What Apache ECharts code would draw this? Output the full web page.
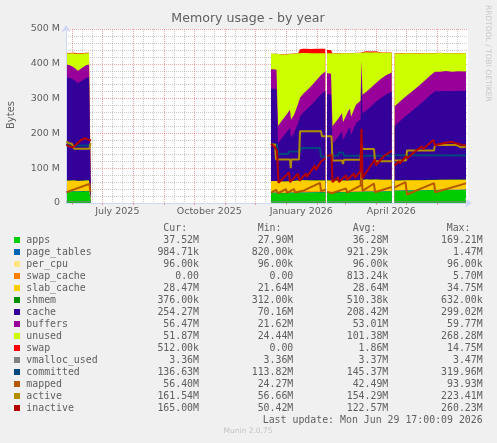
<!DOCTYPE html>
<html>
<head>
<meta charset="utf-8">
<script src="https://cdn.jsdelivr.net/npm/echarts@6/dist/echarts.min.js"></script>
<style>
html, body { margin: 0; padding: 0; background: #f0f0f0; }
#chart { width: 497px; height: 443px; }
</style>
</head>
<body>
<div id="chart"></div>
<script>
// x values are days since 2025-05-25 17:00 (one pixel per day in the munin year graph)
const startMs = Date.UTC(2025, 4, 25, 17)

// null marks a gap in the recorded data
const areaDays = [0.3,3,6,9,12,14,17,20,23,25, 25.6,
  205,208,210.5,212,216,220,224,225,228,232,234,237,240,245,250,255,259.3, 260,
  261,265,266.5,272,276,277,282,284,285,290,294.5,295.5,296.5,300,305,310,315,320,325.7, 327,
  328.7,334,340,346,352,358,364,369,374,380,386,392,400]

// stacked areas, values in MiB
const apps = [33.5,33,33,32.8,32.5,33,33.2,33.5,33.4,33.5, null,
  29,29,29,28.5,28,28.5,29,29,29.5,30,30,29.5,29.5,30,30,30.5,30.5, null,
  31,31,30.5,30.5,31,31,31,31.5,31,31.5,31.5,31.5,32,32,32,32.5,32.5,33,33, null,
  35,35,35.5,35.5,36,36,36.5,36.5,37,37,37.2,37.4,37.52]
const pageTables = [0.95,0.95,0.95,0.95,0.95,0.95,0.95,0.95,0.95,0.95, null,
  0.9,0.9,0.9,0.9,0.9,0.9,0.9,0.9,0.9,0.9,0.9,0.9,0.9,0.9,0.9,0.9,0.9, null,
  0.9,0.9,0.9,0.9,0.9,0.9,0.9,0.9,0.9,0.9,0.9,0.9,0.9,0.9,0.9,0.9,0.9,0.9,0.9, null,
  0.95,0.95,0.96,0.96,0.96,0.97,0.97,0.97,0.98,0.98,0.98,0.98,0.98]
const perCpu = [0.094,0.094,0.094,0.094,0.094,0.094,0.094,0.094,0.094,0.094, null,
  0.094,0.094,0.094,0.094,0.094,0.094,0.094,0.094,0.094,0.094,0.094,0.094,0.094,0.094,0.094,0.094,0.094, null,
  0.094,0.094,0.094,0.094,0.094,0.094,0.094,0.094,0.094,0.094,0.094,0.094,0.094,0.094,0.094,0.094,0.094,0.094,0.094, null,
  0.094,0.094,0.094,0.094,0.094,0.094,0.094,0.094,0.094,0.094,0.094,0.094,0.094]
const swapCache = [0,0,0,0,0,0,0,0,0,0, null,
  0,0,0,0,0.5,0.5,1,1,2,3,3.5,4,4,3,2.5,2,1.5, null,
  1,1,0.5,0.5,1,1,1,1.5,1.5,2,2,5.5,3,3,2.5,2,1,0.5,0.5, null,
  0,0,0,0,0,0,0,0,0,0,0,0,0]
const slabCache = [30,30,30.5,30.5,30,30,29.5,30,30,30, null,
  33,33,33,32,32,31.5,31.5,31.5,31,30.5,30.5,31,31,31,31.5,31.5,31.5, null,
  32,32,32,32,31.5,31.5,31.5,31,31,31,31,31,31.5,31.5,31.5,32,32,32,32, null,
  28.5,28.5,28.5,28.5,28.5,28.5,28.5,28.5,28.5,28.5,28.5,28.5,28.47]
const shmem = [0.6,0.6,0.6,0.6,0.6,0.6,0.6,0.6,0.6,0.6, null,
  0.55,0.55,0.55,0.55,0.55,0.55,0.55,0.55,0.55,0.55,0.55,0.55,0.55,0.55,0.55,0.55,0.55, null,
  0.5,0.5,0.5,0.5,0.5,0.5,0.5,0.5,0.5,0.5,0.5,0.5,0.5,0.5,0.5,0.5,0.5,0.5,0.5, null,
  0.4,0.4,0.4,0.4,0.4,0.4,0.4,0.4,0.4,0.4,0.4,0.4,0.38]
const cache = [296,295,292,286,280,282,289,294,296,296, null,
  265,265,263,110,125,140,153,125,137,165,183,193,201,215,231,247,257, null,
  247,246,105,125,141,115,145,153,131,163,175,290,190,197,210,223,235,245,253, null,
  157,171,185,199,213,228,243,255,254,255,254,255,254.27]
const buffers = [37,37,36,36,36,37,37,37,37,37, null,
  56,56,56,50,50,50,52,52,52,54,54,54,54,55,55,55,56, null,
  60,60,52,52,52,52,53,53,52,53,53,50,53,54,54,54,55,55,55, null,
  56,56,56,56,56,56,56,56,56,57,56,56,56.47]
const unused = [32,33,37,43,49,46,39,34,32,32, null,
  44,44,46,205,190,175,160,188,176,146,128,118,110,95,79,63,52, null,
  58,59,208,188,172,198,167,159,182,149,137,25,122,114,101,88,75,65,57, null,
  152,138,124,110,95,80,65,53,54,51,53,52,51.87]
const swap = [1.5,1.5,1.5,1.5,1.5,1.5,1.5,1.5,1.5,1.5, null,
  0.5,0.5,0.5,0.5,0.5,0.5,0.5,0.5,0.5,0.5,11,12,12,12,13,13,13, null,
  9,9,0.5,0.5,0.5,0.5,0.5,0.5,0.5,0.5,0.5,0.5,3,3,3,3,0.5,0.5,0.5, null,
  0.5,0.5,0.5,0.5,0.5,0.5,0.5,0.5,0.5,0.5,0.5,0.5,0.5]

// lines, [day, MiB]
const vmallocUsed = [[0.3,3.4],[25,3.4],[25.6,null],[205,3.4],[259.3,3.4],[260,null],
  [261,3.4],[325.7,3.4],[327,null],[328.7,3.36],[400,3.36]]
const committed = [[0.3,168],[6,166],[12,165],[25,165],[25.6,null],
  [205,168],[211,168],[212,141],[222,141],[223,148],[234,148],[235,158],[254,158],[255,133],[259.3,133],[260,null],
  [261,132],[266,136],[272,136],[273,145],[277,145],[278,136],[325.7,136],[327,null],
  [328.7,137],[360,137],[400,136.63]]
const mapped = [[0.3,31],[23.5,55],[24.3,32],[25,32],[25.6,null],
  [205,30],[210,38],[212,28],[220,40],[221,29],[228,40],[229,30],[238,36],[254,58],[255,34],[259.3,38],[260,null],
  [261,32],[266,28],[280,42],[281,30],[294.5,50],[295.5,94],[296.5,35],[308,56],[309,31],[325.7,46],[327,null],
  [328.7,45],[339.5,60],[341,24.3],[368,57],[369.3,31],[400,56.4]]
const active = [[0.3,176],[3,172],[6,170],[8,156],[23.5,156],[24.5,172],[25,172],[25.6,null],
  [205,168],[209,168],[210,125],[224,125],[224.7,100],[225.4,125],[233,125],[234,206],[255,206],[256,192],[259.3,192],[260,null],
  [261,192],[265.5,192],[266.5,122],[276,122],[277,112],[278,124],[294.5,124],[295.5,170],[296.5,155],[308,155],[309,120],[325.7,120],[327,null],
  [328.7,122],[340,122],[341,151],[368,151],[369,167],[390,167],[395,160],[400,161.54]]
const inactive = [[0.3,167],[3,163],[7,160],[11,170],[15,181],[19,186],[22,182],[25,180],[25.6,null],
  [205,170],[209,160],[211,150],[212.5,58],[223,88],[224,60],[232,84],[233.5,64],[240,85],[241,75],[249,108],[250,95],[255,120],[259.3,128],[260,null],
  [261,135],[265.5,138],[266.5,60],[272,74],[273,60],[280,80],[281,66],[288,85],[289,72],[294.5,92],[295.5,213],[296.5,72],[303,100],[309,125],[310,108],[318,135],[325.7,150],[327,null],
  [328.7,108],[333,120],[334,114],[340,135],[341,128],[350,150],[356,163],[357,155],[367.5,181],[369,166],[375,170],[385,176],[392,170],[396,167],[400,165]]

const names = ['apps','page_tables','per_cpu','swap_cache','slab_cache','shmem','cache','buffers','unused','swap',
  'vmalloc_used','committed','mapped','active','inactive']
const curVals = ['37.52M','984.71k','96.00k','0.00','28.47M','376.00k','254.27M','56.47M','51.87M','512.00k','3.36M','136.63M','56.40M','161.54M','165.00M']
const minVals = ['27.90M','820.00k','96.00k','0.00','21.64M','312.00k','70.16M','21.62M','24.44M','0.00','3.36M','113.82M','24.27M','56.66M','50.42M']
const avgVals = ['36.28M','921.29k','96.00k','813.24k','28.64M','510.38k','208.42M','53.01M','101.38M','1.86M','3.37M','145.37M','42.49M','154.29M','122.57M']
const maxVals = ['169.21M','1.47M','96.00k','5.70M','34.75M','632.00k','299.02M','59.77M','268.28M','14.75M','3.47M','319.96M','93.93M','223.41M','260.23M']

const xLabelText = ['July 2025','October 2025','January 2026','April 2026']
const xLabelMonth = ['2025-07-01','2025-10-01','2026-01-01','2026-04-01']
const monthStarts = ['2025-06-01','2025-07-01','2025-08-01','2025-09-01','2025-10-01','2025-11-01','2025-12-01',
  '2026-01-01','2026-02-01','2026-03-01','2026-04-01','2026-05-01','2026-06-01']

const colors = ['#00cc00','#0066b3','#ffe680','#ff8000','#ffcc00','#008f00','#330099','#990099','#ccff00','#ff0000',
  '#808080','#00487d','#b35a00','#b38f00','#b30000']

const dayOf = s => (Date.parse(s + 'T00:00:00Z') - startMs) / 864e5
const majorDays = monthStarts.map(dayOf)
const minorDays = [dayOf('2025-05-31') - 10]
monthStarts.forEach(m => {
  minorDays.push(dayOf(m.slice(0, 8) + '11'), dayOf(m.slice(0, 8) + '21'))
})
const labelDays = xLabelMonth.map(m => dayOf(m) + 15)

const fontColor = '#606060'
const gridColor = 'rgba(150,150,150,0.5)'
const mgridColor = 'rgba(222,79,79,0.5)'
const axisColor = '#cfd6f8'

const areaVals = [apps, pageTables, perCpu, swapCache, slabCache, shmem, cache, buffers, unused, swap]
const lineVals = [vmallocUsed, committed, mapped, active, inactive]

// split the area samples into the recorded blocks
let blocks = []
let from = 0
areaDays.forEach((d, k) => {
  if (apps[k] === null) { blocks.push([from, k]); from = k + 1 }
})
blocks.push([from, areaDays.length])

// stack by hand: running totals, drawn from the top layer down so lower layers cover higher ones
let series = []
blocks.forEach(b => {
  let days = areaDays.slice(b[0], b[1])
  let run = days.map(() => 0)
  let tops = areaVals.map(vals => {
    run = run.map((r, k) => r + vals[b[0] + k])
    return run
  })
  for (let i = areaVals.length - 1; i >= 0; i--) {
    series.push({
      name: names[i], type: 'line', symbol: 'none', silent: true,
      lineStyle: { width: 0, opacity: 0 },
      areaStyle: { color: colors[i], opacity: 1, origin: 'start' },
      itemStyle: { color: colors[i] },
      data: days.map((d, k) => [d, tops[i][k]])
    })
  }
})
lineVals.forEach((vals, j) => {
  let i = j + areaVals.length
  series.push({
    name: names[i], type: 'line', symbol: 'none', silent: true,
    lineStyle: { width: i === 10 ? 1 : 2, color: colors[i] },
    itemStyle: { color: colors[i] },
    data: vals
  })
})

function txt (s, x, y, font, fill, align, rot) {
  return {
    type: 'text', x: x, y: y, rotation: rot || 0, silent: true,
    style: { text: s, font: font, fill: fill, align: align, verticalAlign: 'middle', textAlign: align, textVerticalAlign: 'middle' }
  }
}
const mono = '9.9px "DejaVu Sans Mono"'
let graphics = [
  txt('Memory usage - by year', 248, 19, '12.6px "DejaVu Sans"', fontColor, 'center'),
  txt('Bytes', 11, 115, '10px "DejaVu Sans"', fontColor, 'center', Math.PI / 2),
  txt('RRDTOOL / TOBI OETIKER', 487.5, 5, '7.5px "DejaVu Sans"', '#c8c8c8', 'left', -Math.PI / 2),
  txt('Cur:', 163.3, 228, mono, fontColor, 'left'),
  txt('Min:', 257.7, 228, mono, fontColor, 'left'),
  txt('Avg:', 352.7, 228, mono, fontColor, 'left'),
  txt('Max:', 446.7, 228, mono, fontColor, 'left'),
  txt('Last update: Mon Jun 29 17:00:09 2026', 482.7, 420, mono, fontColor, 'right'),
  txt('Munin 2.0.75', 248, 431, '7.5px "DejaVu Sans"', '#c4c4c4', 'center')
]
names.forEach((n, i) => {
  let y = 240 + 12 * i
  graphics.push({ type: 'rect', silent: true, shape: { x: 14, y: y - 3, width: 6, height: 6 }, style: { fill: colors[i] } })
  graphics.push(txt(n, 26.3, y, mono, fontColor, 'left'))
  graphics.push(txt(curVals[i], 199, y, mono, fontColor, 'right'))
  graphics.push(txt(minVals[i], 293.3, y, mono, fontColor, 'right'))
  graphics.push(txt(avgVals[i], 388.3, y, mono, fontColor, 'right'))
  graphics.push(txt(maxVals[i], 482.7, y, mono, fontColor, 'right'))
})

let chart = echarts.init(document.getElementById('chart'))
let option = {
  animation: false,
  backgroundColor: '#f0f0f0',
  grid: { left: 66, top: 29, width: 402, height: 174, show: true, backgroundColor: '#ffffff', borderWidth: 0 },
  xAxis: [
    {
      type: 'value', min: 0, max: 402, z: 3,
      axisLine: { show: true, lineStyle: { color: axisColor }, symbol: ['none', 'arrow'], symbolSize: [7, 7], symbolOffset: [0, 4] },
      axisTick: { show: true, customValues: majorDays, length: 2, lineStyle: { color: mgridColor } },
      axisLabel: {
        customValues: labelDays, margin: 4, fontSize: 9.5, fontFamily: 'DejaVu Sans', color: fontColor,
        formatter: v => {
          let k = labelDays.findIndex(d => Math.abs(d - v) < 0.01)
          return k < 0 ? '' : xLabelText[k]
        }
      },
      splitLine: { show: true, lineStyle: { color: mgridColor, type: [1, 1], width: 1 } }
    },
    {
      type: 'value', min: 0, max: 402, z: 2,
      axisLine: { show: false },
      axisTick: { show: false, customValues: minorDays },
      axisLabel: { show: false },
      splitLine: { show: true, lineStyle: { color: gridColor, type: [1, 1], width: 1 } }
    }
  ],
  yAxis: {
    type: 'value', min: 0, max: 500, interval: 100, z: 3,
    axisLine: { show: true, lineStyle: { color: axisColor }, symbol: ['none', 'arrow'], symbolSize: [7, 7], symbolOffset: [0, 4] },
    axisTick: { show: false },
    axisLabel: { margin: 6, fontSize: 9.5, fontFamily: 'DejaVu Sans', color: fontColor, formatter: v => v === 0 ? '0' : v + ' M' },
    splitLine: { show: true, lineStyle: { color: mgridColor, type: [1, 1], width: 1 } },
    minorTick: { show: false, splitNumber: 5 },
    minorSplitLine: { show: true, lineStyle: { color: gridColor, type: [1, 1], width: 1 } }
  },
  graphic: graphics,
  series: series
}
chart.setOption(option)
</script>
</body>
</html>
